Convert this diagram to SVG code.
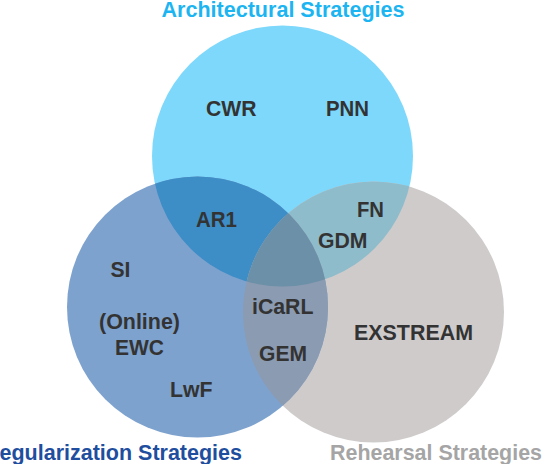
<svg xmlns="http://www.w3.org/2000/svg" width="542" height="464" viewBox="0 0 542 464">
<style>
.lbl{font-family:"Liberation Sans",Arial,sans-serif;font-weight:bold;font-size:21.5px;fill:#333333}
.ttl{font-family:"Liberation Sans",Arial,sans-serif;font-weight:bold;font-size:21.5px}
</style>
<defs>
<clipPath id="cT"><circle cx="282.5" cy="156" r="130.5"/></clipPath>
<clipPath id="cL"><circle cx="197.5" cy="307" r="130.5"/></clipPath>
<clipPath id="cR"><circle cx="373.5" cy="312" r="130.5"/></clipPath>
</defs>
<rect width="542" height="464" fill="#ffffff"/>
<g id="circles">
<circle id="top" cx="282.5" cy="156" r="130.5" fill="#7DD8FC"/>
<circle id="right" cx="373.5" cy="312" r="130.5" fill="#CFCBCB"/>
<circle id="left" cx="197.5" cy="307" r="130.5" fill="#7EA2CE"/>
<g clip-path="url(#cT)"><circle cx="197.5" cy="307" r="130.5" fill="#3D8DC6"/><circle cx="373.5" cy="312" r="130.5" fill="#8FBCCB"/></g>
<g clip-path="url(#cL)"><circle cx="373.5" cy="312" r="130.5" fill="#8B9BB1"/></g>
<g clip-path="url(#cL)"><g clip-path="url(#cR)"><circle cx="282.5" cy="156" r="130.5" fill="#6C90A8"/></g></g>
</g>
<g id="titles">
<text class="ttl" x="161.5" y="17" textLength="243" lengthAdjust="spacingAndGlyphs" fill="#1CB5F2">Architectural Strategies</text>
<text class="ttl" x="-16" y="460" textLength="258" lengthAdjust="spacingAndGlyphs" fill="#1F4E9E">Regularization Strategies</text>
<text class="ttl" x="330" y="460" textLength="212" lengthAdjust="spacingAndGlyphs" fill="#A5A5A5">Rehearsal Strategies</text>
</g>
<g id="labels">
<text class="lbl" x="206" y="115.5" textLength="50.5" lengthAdjust="spacingAndGlyphs">CWR</text>
<text class="lbl" x="326" y="115.5" textLength="43" lengthAdjust="spacingAndGlyphs">PNN</text>
<text class="lbl" x="196" y="226.5" textLength="41" lengthAdjust="spacingAndGlyphs">AR1</text>
<text class="lbl" x="357" y="216.5" textLength="27" lengthAdjust="spacingAndGlyphs">FN</text>
<text class="lbl" x="318" y="248" textLength="49.5" lengthAdjust="spacingAndGlyphs">GDM</text>
<text class="lbl" x="110.5" y="277" textLength="20" lengthAdjust="spacingAndGlyphs">SI</text>
<text class="lbl" x="99" y="329" textLength="81" lengthAdjust="spacingAndGlyphs">(Online)</text>
<text class="lbl" x="115" y="354.5" textLength="49" lengthAdjust="spacingAndGlyphs">EWC</text>
<text class="lbl" x="170" y="396.5" textLength="42.5" lengthAdjust="spacingAndGlyphs">LwF</text>
<text class="lbl" x="252" y="314" textLength="61.5" lengthAdjust="spacingAndGlyphs">iCaRL</text>
<text class="lbl" x="259" y="361" textLength="48" lengthAdjust="spacingAndGlyphs">GEM</text>
<text class="lbl" x="354" y="340" textLength="119" lengthAdjust="spacingAndGlyphs">EXSTREAM</text>
</g>
</svg>
